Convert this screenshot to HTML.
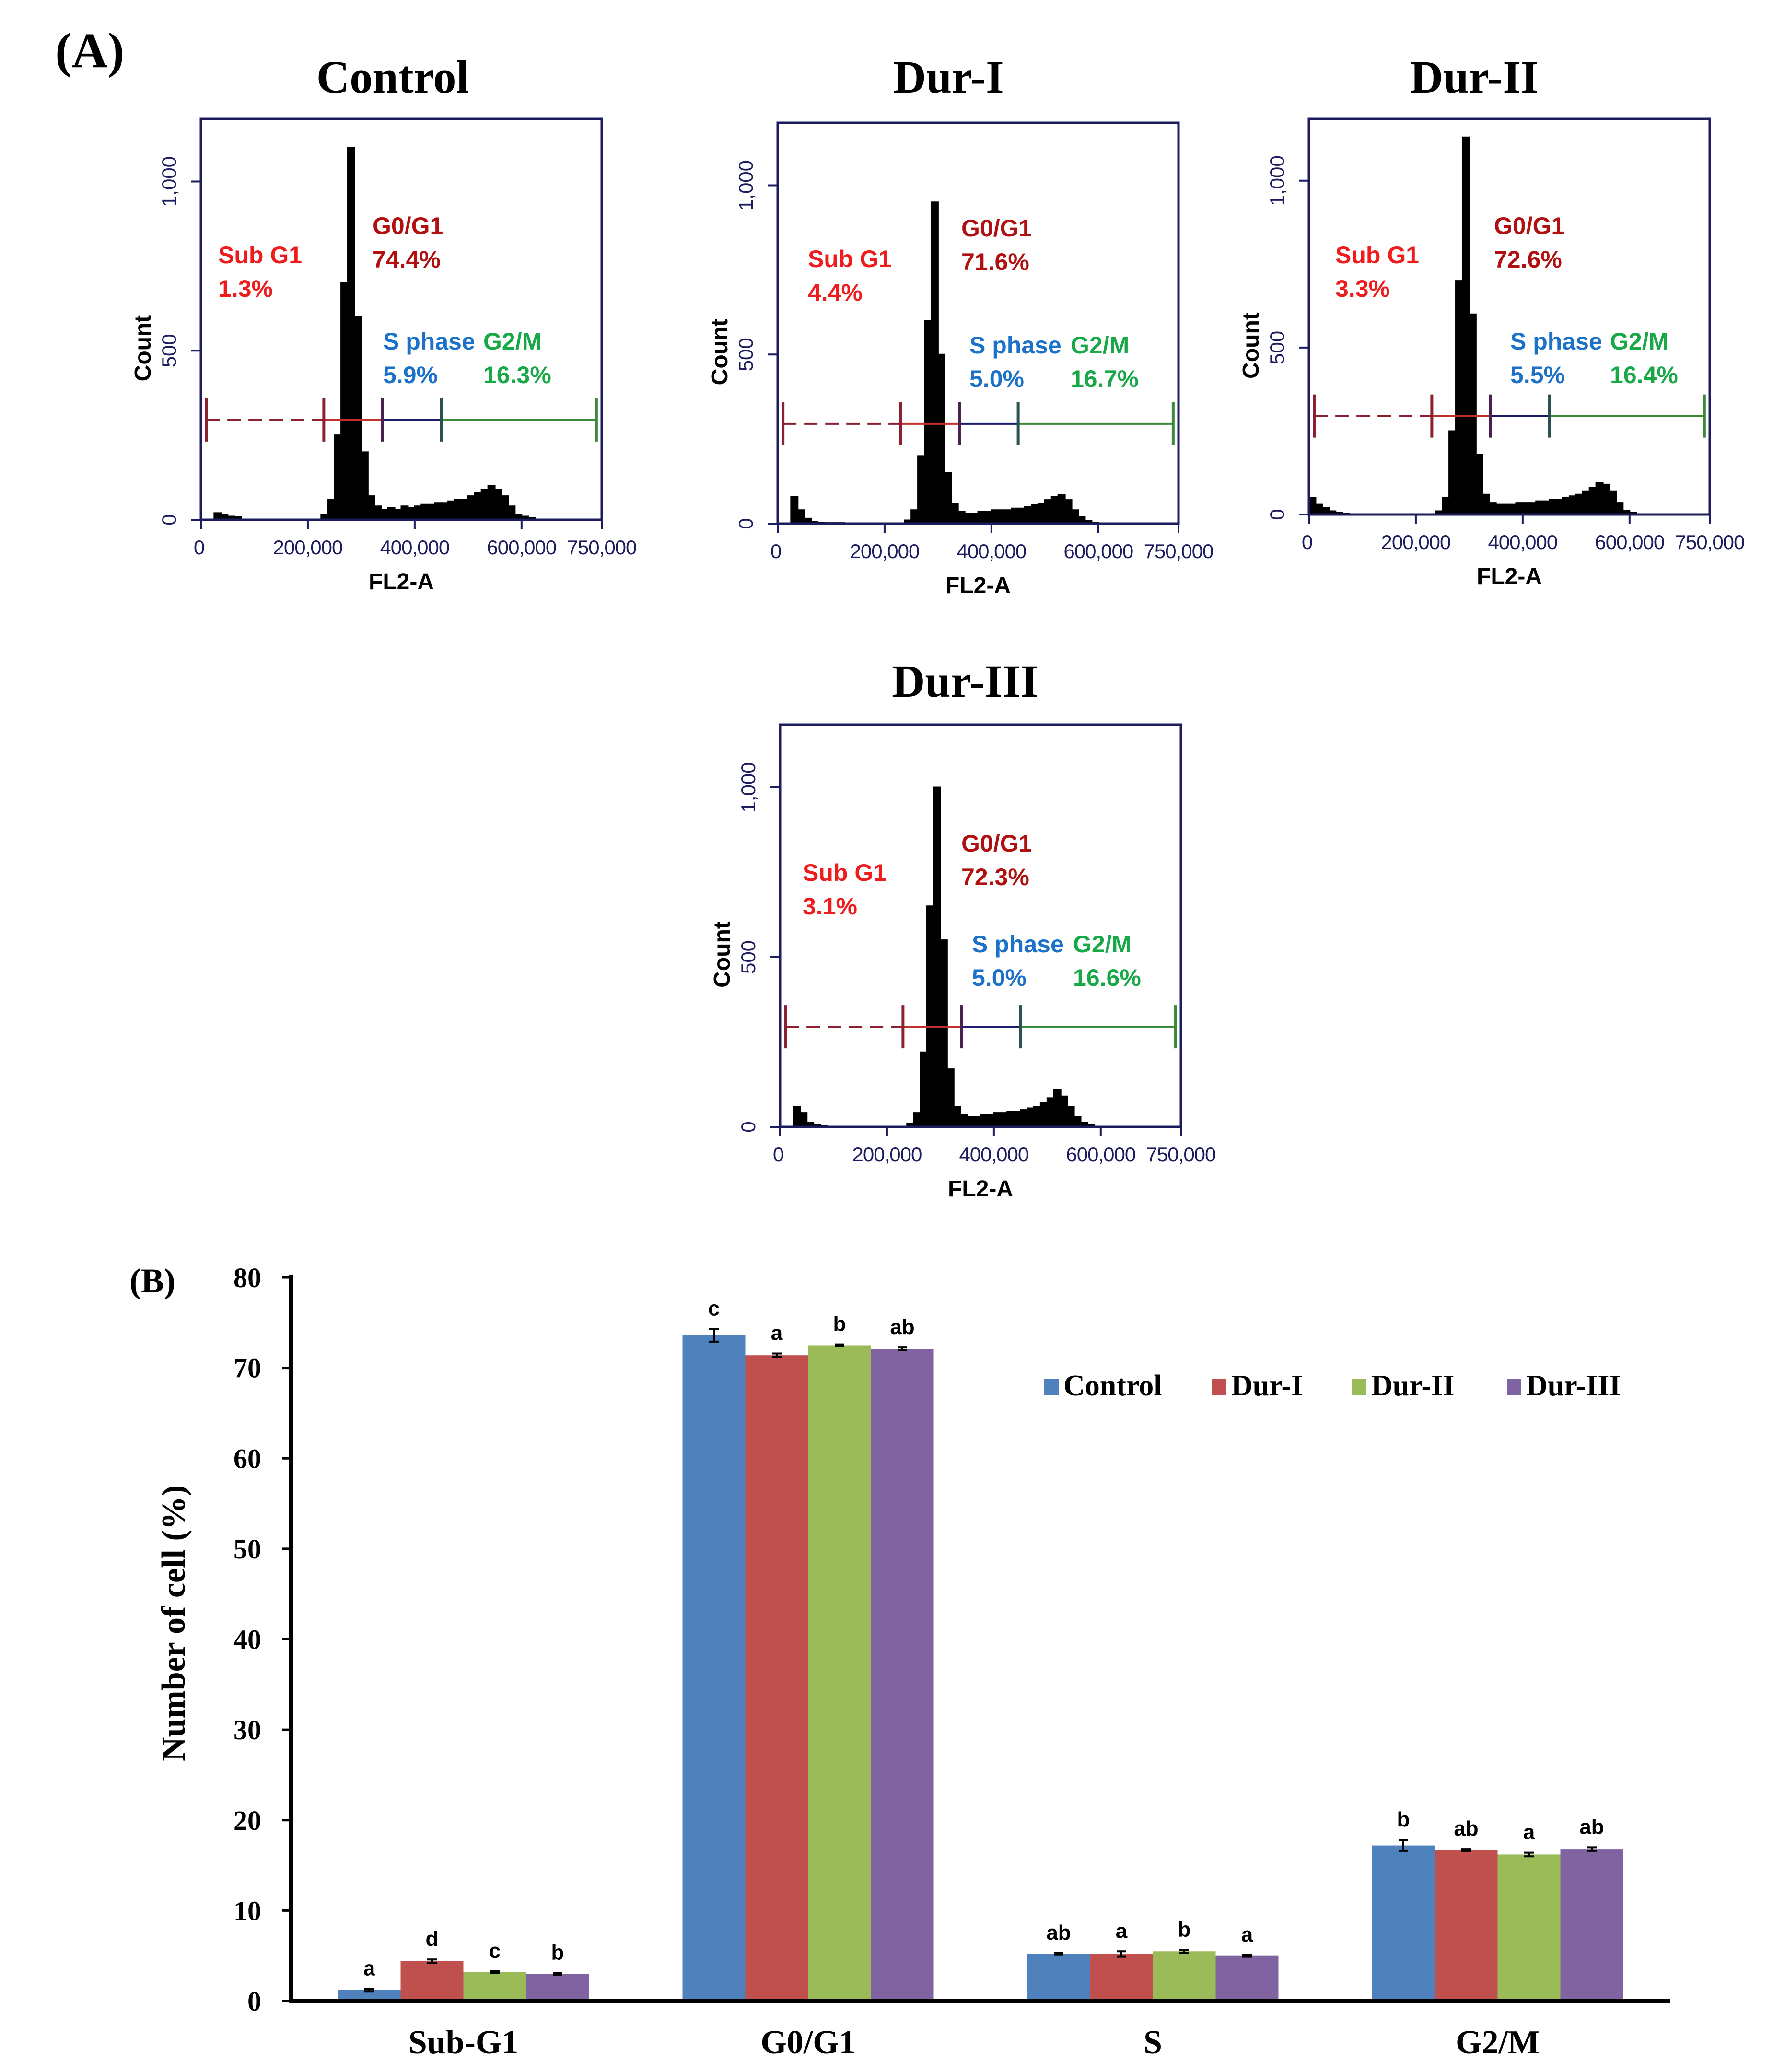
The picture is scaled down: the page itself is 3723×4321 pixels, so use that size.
<!DOCTYPE html>
<html><head><meta charset="utf-8"><style>
html,body{margin:0;padding:0;background:#fff;}
svg{display:block;}
</style></head><body>
<svg id="fig" xmlns="http://www.w3.org/2000/svg" width="3723" height="4321" viewBox="0 0 3723 4321">
<rect width="3723" height="4321" fill="#fff"/>
<text x="115" y="140" font-family="Liberation Serif, serif" font-weight="bold" font-size="104">(A)</text>
<text x="270" y="2695" font-family="Liberation Serif, serif" font-weight="bold" font-size="72">(B)</text>
<g id="hist"></g>
<g id="bars"></g>
</svg>
<script>
// ---------- Histogram data (counts per 12,500 bin of FL2-A, 0..750,000) ----------
const histNames = ["Control","Dur-I","Dur-II","Dur-III"];
const histControl = [0,0,20,15,10,8,0,0,0,0,0,0,0,0,0,0,0,0,15,60,250,700,1100,600,200,70,40,30,35,30,40,35,40,45,45,50,50,55,60,60,70,80,90,100,90,70,40,15,10,5,0,0,0,0,0,0,0,0,0,0];
const histDurI = [0,0,80,40,15,5,3,2,2,2,0,0,0,0,0,0,0,0,0,10,40,200,600,950,500,150,60,35,30,30,35,35,40,40,40,45,45,50,55,60,70,80,85,70,40,20,8,3,0,0,0,0,0,0,0,0,0,0,0,0];
const histDurII = [50,30,20,10,5,3,0,0,0,0,0,0,0,0,0,0,0,0,0,10,50,250,700,1130,600,180,60,35,30,30,30,35,35,35,40,40,45,45,50,55,60,70,80,95,90,70,35,12,5,0,0,0,0,0,0,0,0,0,0,0];
const histDurIII = [0,0,60,40,12,6,3,0,0,0,0,0,0,0,0,0,0,0,0,10,40,220,650,1000,550,170,60,35,30,30,35,35,40,40,45,45,50,55,60,70,85,110,90,60,30,12,5,0,0,0,0,0,0,0,0,0,0,0,0,0];
const histSeries = [histControl, histDurI, histDurII, histDurIII];
const histXTicks = [0,200000,400000,600000,750000];
const histXTickLabels = ["0","200,000","400,000","600,000","750,000"];
const histYTicks = [0,500,1000];
const histYTickLabels = ["0","500","1,000"];
const phaseLabelsSub = ["1.3%","4.4%","3.3%","3.1%"];
const phaseLabelsG0 = ["74.4%","71.6%","72.6%","72.3%"];
const phaseLabelsS = ["5.9%","5.0%","5.5%","5.0%"];
const phaseLabelsG2 = ["16.3%","16.7%","16.4%","16.6%"];
const gateBounds = [10000,230000,340000,450000,740000];

// ---------- Bar chart data ----------
const phases = ["Sub-G1","G0/G1","S","G2/M"];
const groups = ["Control","Dur-I","Dur-II","Dur-III"];
const valControl = [1.2,73.6,5.2,17.2];
const valDurI = [4.4,71.4,5.2,16.7];
const valDurII = [3.2,72.5,5.5,16.2];
const valDurIII = [3.0,72.1,5.0,16.8];
const errControl = [0.15,0.7,0.1,0.6];
const errDurI = [0.2,0.2,0.3,0.1];
const errDurII = [0.1,0.1,0.15,0.2];
const errDurIII = [0.1,0.15,0.1,0.2];
const letControl = ["a","c","ab","b"];
const letDurI = ["d","a","a","ab"];
const letDurII = ["c","b","b","a"];
const letDurIII = ["b","ab","a","ab"];
const yTicks = [0,10,20,30,40,50,60,70,80];

const NS = "http://www.w3.org/2000/svg";
function mk(parent, tag, attrs, txt){
  const e = document.createElementNS(NS, tag);
  for (const k in attrs) e.setAttribute(k, attrs[k]);
  if (txt !== undefined) e.textContent = txt;
  parent.appendChild(e);
  return e;
}

// ---------- Histograms ----------
const H = document.getElementById('hist');
const panels = [
  {x:419, y:248, bh:836, tx:819, ty:193, sub:[36,284], g0:[358,223], s:[380,464], g2:[589,464]},
  {x:1622, y:256, bh:836, tx:1978, ty:193, sub:[63,284], g0:[383,220], s:[400,464], g2:[611,464]},
  {x:2730, y:248, bh:825, tx:3075, ty:193, sub:[55,284], g0:[386,223], s:[420,464], g2:[628,464]},
  {x:1627, y:1511, bh:839, tx:2013, ty:1453, sub:[47,309], g0:[378,248], s:[400,458], g2:[611,458]}
];
const BW = 836;
const AX = "#1c1c5e";
panels.forEach((p, pi) => {
  const BH = p.bh, CPX = BH / 1185;
  const g = mk(H, 'g', {});
  
  
  const xs = v => p.x + v / 750000 * BW;
  const ys = c => p.y + BH - c * CPX;
  const t = mk(g, 'text', {x:p.tx, y:p.ty, 'text-anchor':'middle', 'font-family':'Liberation Serif, serif', 'font-weight':'bold', 'font-size':96}, histNames[pi]);
  
  
  const data = histSeries[pi];
  let d = 'M' + xs(0) + ',' + ys(0);
  data.forEach((c, i) => {
    d += ' L' + xs(i*12500) + ',' + ys(c) + ' L' + xs((i+1)*12500) + ',' + ys(c);
  });
  d += ' L' + xs(750000) + ',' + ys(0) + ' Z';
  const hp = mk(g, 'path', {d:d, fill:'#000', stroke:'#000', 'stroke-width':3});
  
  
  const box = mk(g, 'rect', {x:p.x, y:p.y, width:BW, height:BH, fill:'none', stroke:AX, 'stroke-width':5});
  
  
  histXTicks.forEach((v, i) => {
    mk(g, 'line', {x1:xs(v), x2:xs(v), y1:p.y+BH, y2:p.y+BH+20, stroke:AX, 'stroke-width':4});
    const tl = mk(g, 'text', {x:xs(v) + (i===0?-4:0), y:p.y+BH+72, 'text-anchor':'middle', 'font-family':'Liberation Sans, sans-serif', 'font-size':42, fill:AX, 'letter-spacing':'-1'}, histXTickLabels[i]);
    
    
  });
  histYTicks.forEach((v, i) => {
    mk(g, 'line', {x1:p.x-20, x2:p.x, y1:ys(v), y2:ys(v), stroke:AX, 'stroke-width':4});
    const tl = mk(g, 'text', {x:p.x-52, y:ys(v), 'text-anchor':'middle', 'font-family':'Liberation Sans, sans-serif', 'font-size':42, fill:AX, transform:'rotate(-90 '+(p.x-52)+' '+ys(v)+')'}, histYTickLabels[i]);
    
    
  });
  const cl = mk(g, 'text', {x:p.x-105, y:p.y+BH/2+60, 'text-anchor':'middle', 'font-family':'Liberation Sans, sans-serif', 'font-weight':'bold', 'font-size':48, transform:'rotate(-90 '+(p.x-105)+' '+(p.y+BH/2+60)+')'}, 'Count');
  
  
  const fl = mk(g, 'text', {x:p.x+BW/2, y:p.y+BH+145, 'text-anchor':'middle', 'font-family':'Liberation Sans, sans-serif', 'font-weight':'bold', 'font-size':48}, 'FL2-A');
  
  
  const gy = ys(295);
  const gcol = ['#8b2030','#c0302a','#1c1c6e','#3a8a3a'];
  for (let k = 0; k < 4; k++) {
    const ln = mk(g, 'line', {x1:xs(gateBounds[k]), x2:xs(gateBounds[k+1]), y1:gy, y2:gy, stroke:gcol[k], 'stroke-width':4});
    if (k === 0) ln.setAttribute('stroke-dasharray', '28,16');
    
    
  }
  gateBounds.forEach((v, k) => {
    const c = ['#8b2030','#8b2030','#4a2050','#2a5050','#3a8a3a'][k];
    mk(g, 'line', {x1:xs(v), x2:xs(v), y1:gy-45, y2:gy+45, stroke:c, 'stroke-width':6});
  });
  const lab = (txt, pos, dy, col, name) => {
    const e = mk(g, 'text', {x:p.x+pos[0], y:p.y+pos[1]+dy, 'font-family':'Liberation Sans, sans-serif', 'font-weight':'bold', 'font-size':50, fill:col}, txt);
    
    
  };
  lab('Sub G1', p.sub, 17, '#ee1c1c', 'subg1-label');
  lab(phaseLabelsSub[pi], p.sub, 87, '#ee1c1c', 'subg1-value');
  lab('G0/G1', p.g0, 17, '#b01010', 'g0g1-label');
  lab(phaseLabelsG0[pi], p.g0, 87, '#b01010', 'g0g1-value');
  lab('S phase', p.s, 17, '#1c72c8', 'sphase-label');
  lab(phaseLabelsS[pi], p.s, 87, '#1c72c8', 'sphase-value');
  lab('G2/M', p.g2, 17, '#18a848', 'g2m-label');
  lab(phaseLabelsG2[pi], p.g2, 87, '#18a848', 'g2m-value');
});

// ---------- Bar chart ----------
const B = document.getElementById('bars');
const X0 = 607, X1 = 3483, Y0 = 4173, Y80 = 2664;
const yS = v => Y0 - v * (Y0 - Y80) / 80;
const band = (X1 - X0) / phases.length;
const bw = band * 0.1822;
const colors = ['#4f81bd','#c0504d','#9bbb59','#8064a2'];
const vals = [valControl, valDurI, valDurII, valDurIII];
const errs = [errControl, errDurI, errDurII, errDurIII];
const lets = [letControl, letDurI, letDurII, letDurIII];
phases.forEach((ph, ci) => {
  const cx = X0 + band * (ci + 0.5);
  vals.forEach((arr, si) => {
    const x = cx - 2 * bw + si * bw;
    const v = arr[ci];
    const r = mk(B, 'rect', {x:x, y:yS(v), width:bw, height:Y0 - yS(v), fill:colors[si]});
    
    
    const e = errs[si][ci], mx = x + bw / 2;
    const eb = mk(B, 'path', {d:'M'+mx+','+yS(v+e)+' V'+yS(v-e)+' M'+(mx-10)+','+yS(v+e)+' h20 M'+(mx-10)+','+yS(v-e)+' h20', stroke:'#000', 'stroke-width':4, fill:'none'});
    
    
    const lt = mk(B, 'text', {x:mx, y:yS(v+e)-28, 'text-anchor':'middle', 'font-family':'Liberation Sans, sans-serif', 'font-weight':'bold', 'font-size':44}, lets[si][ci]);
    
    
  });
  const cl = mk(B, 'text', {x:cx, y:4282, 'text-anchor':'middle', 'font-family':'Liberation Serif, serif', 'font-weight':'bold', 'font-size':70}, ph);
  
  
});
yTicks.forEach(v => {
  mk(B, 'line', {x1:X0-18, x2:X0, y1:yS(v), y2:yS(v), stroke:'#000', 'stroke-width':5});
  const tl = mk(B, 'text', {x:545, y:yS(v)+20, 'text-anchor':'end', 'font-family':'Liberation Serif, serif', 'font-weight':'bold', 'font-size':58}, String(v));
  
  
});
const ya = mk(B, 'line', {x1:X0, x2:X0, y1:Y80-5, y2:Y0+4, stroke:'#000', 'stroke-width':8});


const xa = mk(B, 'line', {x1:X0-4, x2:X1, y1:Y0, y2:Y0, stroke:'#000', 'stroke-width':8});


const yt = mk(B, 'text', {x:385, y:3385, 'text-anchor':'middle', 'font-family':'Liberation Serif, serif', 'font-weight':'bold', 'font-size':70, transform:'rotate(-90 385 3385)'}, 'Number of cell (%)');


const legX = [2178, 2528, 2820, 3143];
groups.forEach((gname, i) => {
  const lg = mk(B, 'g', {});
  
  
  mk(lg, 'rect', {x:legX[i], y:2876, width:30, height:34, fill:colors[i]});
  mk(lg, 'text', {x:legX[i]+40, y:2910, 'font-family':'Liberation Serif, serif', 'font-weight':'bold', 'font-size':62}, gname);
});
</script>
</body></html>
